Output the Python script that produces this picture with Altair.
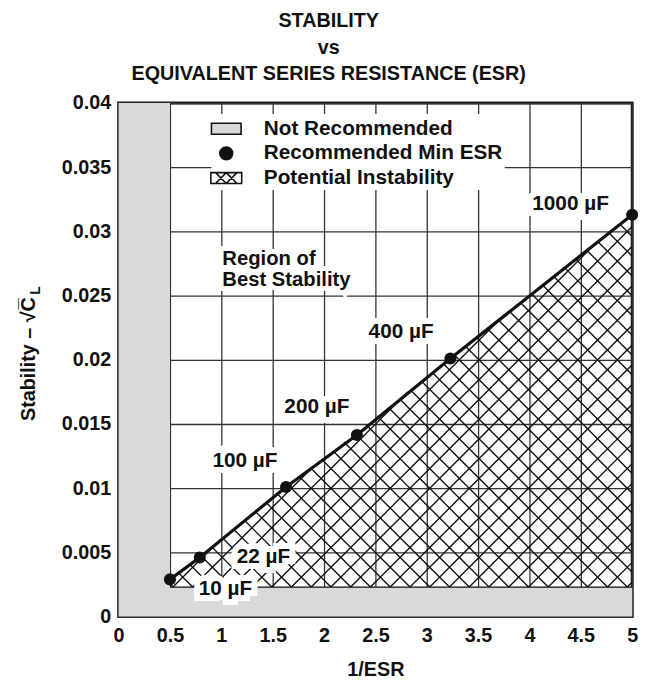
import altair as alt
import pandas as pd
import numpy as np

# ---------------- data ----------------
cap_labels = ["10 µF", "22 µF", "100 µF", "200 µF", "400 µF", "1000 µF"]
inv_esr = [0.5, 0.79, 1.63, 2.32, 3.23, 5.0]
stability = [0.0029, 0.0046, 0.0101, 0.01415, 0.0201, 0.0313]
# annotation anchor positions (data units)
label_x = [1.04, 1.41, 1.23, 1.93, 2.75, 4.40]
label_y = [0.00215, 0.00462, 0.01215, 0.01635, 0.02215, 0.03215]

# "Not Recommended" regions (data units)
nr_x0 = [0.0, 0.5]
nr_x1 = [0.5, 5.0]
nr_y0 = [0.0, 0.0]
nr_y1 = [0.04, 0.0023]

region_text = ["Region of\nBest Stability"]
region_x = [1.01]
region_y = [0.02785]

legend_items = ["Not Recommended", "Recommended Min ESR", "Potential Instability"]

x_ticks = [0, 0.5, 1, 1.5, 2, 2.5, 3, 3.5, 4, 4.5, 5]
y_ticks = [0, 0.005, 0.01, 0.015, 0.02, 0.025, 0.03, 0.035, 0.04]
X_DOM = [0, 5]
Y_DOM = [0, 0.04]

title_lines = ["STABILITY", "vs", "EQUIVALENT SERIES RESISTANCE (ESR)"]
x_title = "1/ESR"
y_title = "Stability \u2013 \u221aC\u0305"
y_sub = ["L"]

# ---------------- styles ----------------
FONT = "Liberation Sans"
GRAY = "#d8d9db"
INK = "#111111"
W = H = 520

# ---------------- hatch for the potential-instability region ----------------
yb = nr_y1[1]
k = (Y_DOM[1] - Y_DOM[0]) / (X_DOM[1] - X_DOM[0])  # 45 deg in screen space (square plot)
poly = [(inv_esr[0], yb), (inv_esr[-1], yb), (inv_esr[-1], stability[-1]), (inv_esr[0], stability[0])]
polyN = [(px, py / k) for px, py in poly]


def clip(p0, d):
    lo, hi = -1e9, 1e9
    n = len(polyN)
    for i in range(n):
        ax, ay = polyN[i]
        bx, by = polyN[(i + 1) % n]
        ex, ey = bx - ax, by - ay
        num = ex * (p0[1] - ay) - ey * (p0[0] - ax)
        den = ex * d[1] - ey * d[0]
        if abs(den) < 1e-12:
            if num < 0:
                return None
            continue
        t = -num / den
        if den > 0:
            lo = max(lo, t)
        else:
            hi = min(hi, t)
    if lo >= hi:
        return None
    return (p0[0] + lo * d[0], p0[1] + lo * d[1], p0[0] + hi * d[0], p0[1] + hi * d[1])


step = 20 / (W / (X_DOM[1] - X_DOM[0]))
span = (stability[-1] - yb) / k
segs = []
x0 = inv_esr[0]
for sgn in (1, -1):
    c = x0 - span - step * 2
    while c < inv_esr[-1] + span + step * 2:
        s = clip((c, yb / k), (1.0, sgn * 1.0))
        if s is not None:
            segs.append({"hx": s[0], "hy": s[1] * k, "hx2": s[2], "hy2": s[3] * k})
        c += step
hatch_df = pd.DataFrame(segs)

# ---------------- tables ----------------
pts = pd.DataFrame({"inv_esr": inv_esr, "stab": stability, "cap": cap_labels,
                    "lx": label_x, "ly": label_y})
nr = pd.DataFrame({"x0": nr_x0, "x1": nr_x1, "y0": nr_y0, "y1": nr_y1})
edge = pd.DataFrame({"x0": [inv_esr[0]], "x1": [inv_esr[-1]], "y": [yb]})
reg = pd.DataFrame({"t": region_text, "x": region_x, "y": region_y})
leg = pd.DataFrame({"item": legend_items})
sub = pd.DataFrame({"t": y_sub})

xs = alt.Scale(domain=X_DOM, nice=False, zero=False)
ys = alt.Scale(domain=Y_DOM, nice=False, zero=False)

x_axis = alt.Axis(values=x_ticks, format="~g", title=x_title, labelFlush=False,
                  labelOverlap=False, ticks=False, domain=False, labelPadding=9,
                  titlePadding=15)
y_axis = alt.Axis(values=y_ticks, format="~g", title=y_title, labelFlush=False,
                  labelOverlap=False, ticks=False, domain=False, labelPadding=8,
                  titleAngle=270, titleAlign="right", titleBaseline="alphabetic",
                  titleX=-85, titleY=196)

base_x = alt.X("x0:Q", scale=xs, axis=x_axis)
base_y = alt.Y("y0:Q", scale=ys, axis=y_axis)

gray = alt.Chart(nr).mark_rect(color=GRAY, opacity=1).encode(
    x=base_x, x2="x1:Q", y=base_y, y2="y1:Q")

hatch = alt.Chart(hatch_df).mark_rule(color=INK, strokeWidth=1.4).encode(
    x=alt.X("hx:Q", scale=xs), y=alt.Y("hy:Q", scale=ys), x2="hx2:Q", y2="hy2:Q")

bottom_edge = alt.Chart(edge).mark_rule(color=INK, strokeWidth=1.4).encode(
    x=alt.X("x0:Q", scale=xs), x2="x1:Q", y=alt.Y("y:Q", scale=ys))

line = alt.Chart(pts).mark_line(color=INK, strokeWidth=3.2).encode(
    x=alt.X("inv_esr:Q", scale=xs), y=alt.Y("stab:Q", scale=ys))

dots = alt.Chart(pts).mark_circle(color=INK, size=150, opacity=1).encode(
    x=alt.X("inv_esr:Q", scale=xs), y=alt.Y("stab:Q", scale=ys))

txt_kw = dict(font=FONT, fontSize=21, fontWeight="bold", align="center", baseline="middle")
halo = alt.Chart(pts).mark_text(color="white", stroke="white", strokeWidth=12,
                                strokeJoin="miter", **txt_kw).encode(
    x=alt.X("lx:Q", scale=xs), y=alt.Y("ly:Q", scale=ys), text="cap:N")
labels = alt.Chart(pts).mark_text(color=INK, **txt_kw).encode(
    x=alt.X("lx:Q", scale=xs), y=alt.Y("ly:Q", scale=ys), text="cap:N")

reg_kw = dict(font=FONT, fontSize=20.5, fontWeight="bold", align="left",
              baseline="middle", lineBreak="\n", lineHeight=21)
reg_halo = alt.Chart(reg).mark_text(color="white", stroke="white", strokeWidth=10,
                                    strokeJoin="miter", **reg_kw).encode(
    x=alt.X("x:Q", scale=xs), y=alt.Y("y:Q", scale=ys), text="t:N")
reg_txt = alt.Chart(reg).mark_text(color=INK, **reg_kw).encode(
    x=alt.X("x:Q", scale=xs), y=alt.Y("y:Q", scale=ys), text="t:N")

rect_path = "M-1.25,-0.46L1.25,-0.46L1.25,0.46L-1.25,0.46Z"
circ_path = "M-0.54,0A0.54,0.54,0,1,0,0.54,0A0.54,0.54,0,1,0,-0.54,0Z"
hatch_path = ("M-1.3,-0.46L1.3,-0.46L1.3,0.46L-1.3,0.46Z"
              "M-0.9,-0.46L0,0.46M-0.9,0.46L0,-0.46M0,-0.46L0.9,0.46M0,0.46L0.9,-0.46")
leg_def = alt.Legend(title=None, orient="none", legendX=94, legendY=11,
                     fillColor="white", padding=2, symbolSize=576,
                     symbolStrokeWidth=1.6,
                     labelFont=FONT, labelFontSize=21, labelFontWeight="bold",
                     labelColor=INK, labelLimit=400, labelOffset=25,
                     rowPadding=2, symbolOpacity=1)
legend_layer = alt.Chart(leg).transform_filter("false").mark_point(
    filled=True, strokeWidth=1.6, opacity=1).encode(
    fill=alt.Fill("item:N", scale=alt.Scale(domain=legend_items, range=[GRAY, INK, "white"]),
                  legend=leg_def),
    stroke=alt.Stroke("item:N", scale=alt.Scale(domain=legend_items, range=[INK, INK, INK]),
                      legend=leg_def),
    shape=alt.Shape("item:N", scale=alt.Scale(domain=legend_items,
                                              range=[rect_path, circ_path, hatch_path]),
                    legend=leg_def))

sub_txt = alt.Chart(sub).mark_text(font=FONT, fontSize=14, fontWeight="bold", color=INK,
                                   angle=270, align="left", baseline="alphabetic").encode(
    x=alt.value(-80), y=alt.value(194), text="t:N")

chart = alt.layer(gray, hatch, bottom_edge, line, dots, halo, labels, reg_halo, reg_txt,
                  legend_layer, sub_txt).properties(
    width=W, height=H,
    title=alt.TitleParams(text=title_lines, anchor="middle", frame="bounds",
                          font=FONT, fontSize=20, fontWeight="bold", color=INK,
                          lineHeight=27, offset=9),
    autosize=alt.AutoSizeParams(type="none"),
    padding={"left": 112, "top": 92, "right": 15, "bottom": 63},
).configure_view(stroke="#222", strokeWidth=3).configure_axis(
    labelFont=FONT, labelFontSize=20, labelFontWeight="bold", labelColor=INK,
    titleFont=FONT, titleFontSize=20, titleFontWeight="bold", titleColor=INK,
    gridColor="#333", gridWidth=1.3, gridOpacity=1)

chart.save("out.html", embed_options={"renderer": "svg", "actions": False})
